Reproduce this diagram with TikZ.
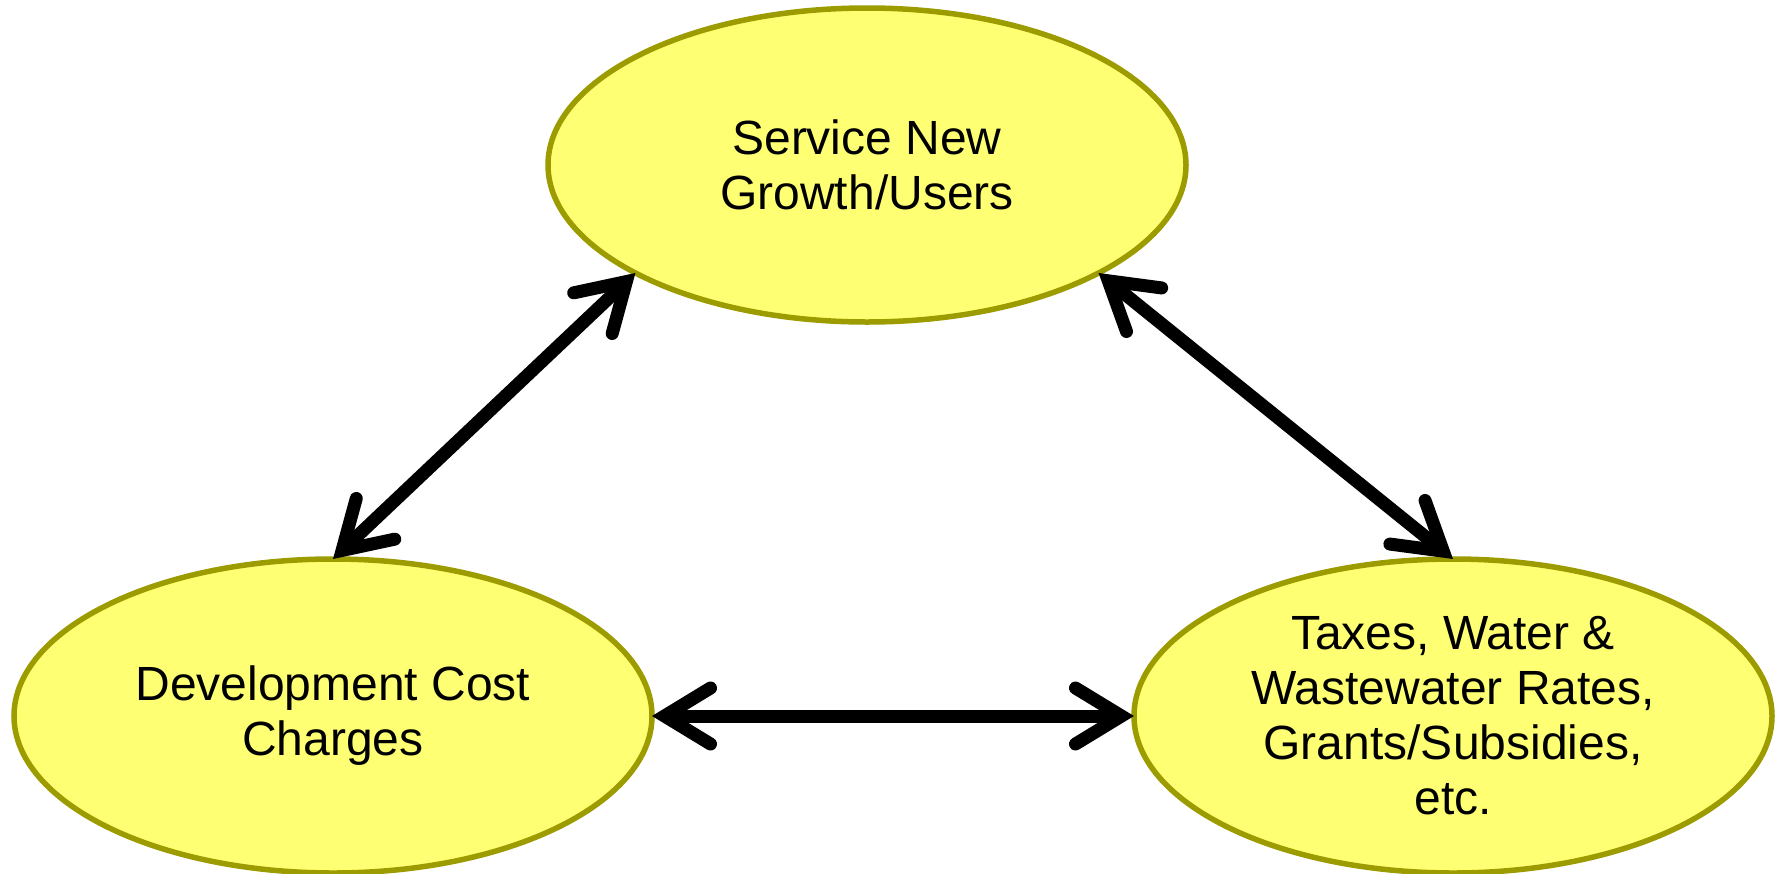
\documentclass[tikz,border=0pt]{standalone}
\usepackage{fontspec}
\setmainfont{Liberation Sans}
\usetikzlibrary{shapes.geometric,arrows.meta}
\definecolor{bubblefill}{HTML}{FFFF73}
\definecolor{bubbleline}{HTML}{9C9C00}
\tikzset{
  bubble/.style={ellipse, draw=bubbleline, fill=bubblefill, line width=5.5pt,
    minimum width=638pt, minimum height=314pt, inner sep=0pt, outer sep=0pt},
  bubbletext/.style={align=center, inner sep=0pt,
    font=\fontsize{48pt}{55pt}\selectfont},
  link/.style={line width=13pt, {Straight Barb[length=46pt,width=56pt,line cap=round,line join=miter]}-{Straight Barb[length=46pt,width=56pt,line cap=round,line join=miter]}}
}
\begin{document}
\begin{tikzpicture}[x=1pt,y=-1pt]
  \useasboundingbox (0,0) rectangle (1785,873);
  % the three funding / growth bubbles
  \node[bubble] (growth) at (867,165) {};
  \node[bubble] (dcc) at (333,716) {};
  \node[bubble] (taxes) at (1453,716) {};
  \node[bubbletext] (growthtxt) at (growth.center) {Service New\\Growth/Users};
  \node[bubbletext] (dcctxt) at (dcc.center) {Development Cost\\Charges};
  \node[bubbletext] (taxestxt) at (taxes.center) {Taxes, Water \&\\Wastewater Rates,\\Grants/Subsidies,\\etc.};
  % two-way links between the bubbles
  \draw[link] (dcc.north) -- (growth.205);
  \draw[link] (growth.-25.6) -- (taxes.north);
  \draw[link] (dcc.east) -- (taxes.west);
\end{tikzpicture}
\end{document}
